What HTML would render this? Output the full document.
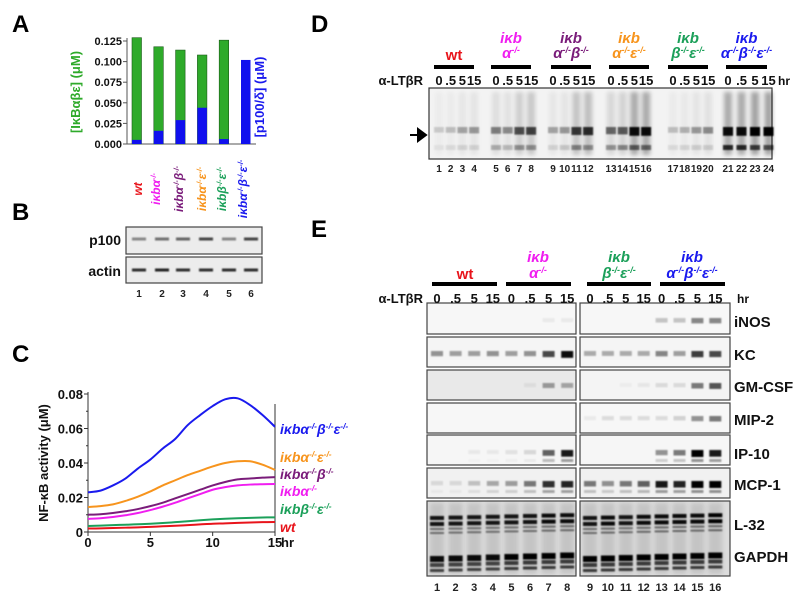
<!DOCTYPE html>
<html><head><meta charset="utf-8"><style>
html,body{margin:0;padding:0;background:#fff}
svg{display:block;font-family:"Liberation Sans",Arial,sans-serif;font-weight:bold}
</style></head><body>
<svg id="fig" width="800" height="602" viewBox="0 0 800 602" xmlns="http://www.w3.org/2000/svg">
<defs><filter id="bl" x="-20%" y="-50%" width="140%" height="200%"><feGaussianBlur stdDeviation="0.9"/></filter>
<filter id="bl2" x="-50%" y="-10%" width="200%" height="120%"><feGaussianBlur stdDeviation="2"/></filter></defs>
<g font-size="24" fill="#000">
<text x="12" y="32">A</text>
<text x="12" y="220">B</text>
<text x="12" y="362">C</text>
<text x="311" y="32">D</text>
<text x="311" y="237">E</text>
</g>
<g id="pa"></g>
<g id="pb"></g>
<g id="pc"></g>
<g id="pd"></g>
<g id="pe"></g>
</svg>
<script>
// ---------- Panel A data ----------
const aCategories = ['wt','iκbα','iκbαβ','iκbαε','iκbβε','iκbαβε'];
const aGreen = [0.129, 0.118, 0.114, 0.108, 0.126, 0];
const aBlue = [0.005, 0.016, 0.029, 0.044, 0.006, 0.102];
const aTicks = [0, 0.025, 0.05, 0.075, 0.1, 0.125];
const aTickLabels = ['0.000','0.025','0.050','0.075','0.100','0.125'];
// ---------- Panel C data ----------
const cTimes = [0,1,2,3,4,5,6,7,8,9,10,11,12,13,14,15];
const cBlue = [0.023,0.024,0.027,0.031,0.0368,0.042,0.0484,0.054,0.062,0.0678,0.073,0.0769,0.0775,0.0736,0.0678,0.061];
const cOrange = [0.0145,0.015,0.016,0.018,0.0205,0.0235,0.027,0.030,0.033,0.0355,0.038,0.040,0.041,0.041,0.039,0.036];
const cPurple = [0.010,0.0103,0.011,0.012,0.0133,0.015,0.017,0.0195,0.022,0.0245,0.027,0.029,0.0305,0.031,0.0315,0.0318];
const cMagenta = [0.0076,0.008,0.0087,0.0097,0.011,0.0127,0.0147,0.017,0.0195,0.022,0.0245,0.026,0.027,0.0275,0.0277,0.0278];
const cGreen = [0.0035,0.0037,0.004,0.0042,0.0045,0.0048,0.0052,0.0057,0.0062,0.0068,0.0073,0.0077,0.008,0.0082,0.0084,0.0085];
const cRed = [0.002,0.0021,0.0023,0.0025,0.0027,0.003,0.0033,0.0036,0.004,0.0044,0.0048,0.005,0.0053,0.0055,0.0057,0.0058];
const cYTicks = [0,0.02,0.04,0.06,0.08];
const cYTickLabels = ['0','0.02','0.04','0.06','0.08'];
const cXTicks = [0,5,10,15];
// ---------- Panel B data ----------
const bP100 = [0.45,0.55,0.6,0.75,0.45,0.75];
const bActin = [0.85,0.9,0.85,0.85,0.85,0.85];
// ---------- Panel D data ----------
const dUpper = [0.15,0.2,0.3,0.35, 0.45,0.4,0.65,0.7, 0.3,0.35,0.75,0.8, 0.55,0.6,0.95,0.95, 0.2,0.25,0.35,0.4, 0.95,0.95,1,1];
const dLower = [0.05,0.08,0.1,0.1, 0.25,0.2,0.35,0.35, 0.1,0.15,0.4,0.35, 0.35,0.4,0.55,0.5, 0.08,0.1,0.12,0.12, 0.8,0.8,0.7,0.6];
const dTimes = ['0','.5','5','15'];
// ---------- Panel E data ----------
const eINOS = [0,0,0,0,0,0,0.05,0.05, 0,0,0,0,0.2,0.2,0.45,0.45];
const eKC = [0.4,0.35,0.35,0.4,0.35,0.4,0.7,0.95, 0.3,0.3,0.3,0.3,0.45,0.35,0.75,0.7];
const eGMCSF = [0,0,0,0,0,0.05,0.35,0.3, 0,0,0.03,0.05,0.1,0.1,0.5,0.65];
const eMIP2 = [0,0,0,0,0,0,0,0, 0.05,0.1,0.1,0.1,0.1,0.15,0.4,0.5];
const eIP10 = [0,0,0.05,0.05,0.08,0.12,0.6,0.9, 0,0,0,0,0.4,0.5,1,0.9];
const eMCP1 = [0.1,0.1,0.2,0.3,0.35,0.5,0.8,0.85, 0.5,0.4,0.5,0.6,0.9,0.85,1,1];
const eL32 = [0.9,0.9,0.9,0.9,0.9,0.9,0.95,0.95, 0.9,0.95,0.9,0.95,0.95,0.95,0.95,1];
const eGAPDH = [0.95,0.95,0.95,0.95,1,1,1,1, 1,1,1,1,1,1,1,1];
const eTimes = ['0','.5','5','15'];

const NS='http://www.w3.org/2000/svg';
function mk(tag, attrs, parent, txt){const e=document.createElementNS(NS,tag);for(const k in attrs)e.setAttribute(k,attrs[k]);if(txt!==undefined)e.textContent=txt;parent.appendChild(e);return e;}
function geno(parent,x,y,parts,color,size,anchor,rot){
  const t=mk('text',{x:x,y:y,fill:color,'font-size':size,'font-style':'italic','text-anchor':anchor||'middle'},parent);
  if(rot)t.setAttribute('transform','rotate(-90 '+x+' '+y+')');
  parts.forEach(p=>{const s=mk('tspan',{},t,p[0]);if(p[1]){s.setAttribute('font-size',size*0.6);s.setAttribute('dy',-size*0.35);} else if(p[2]){s.setAttribute('dy',size*0.35);}});
  return t;
}
const COL={wt:'#e8141b',a:'#f01ef0',ab:'#7a1c7a',ae:'#f7941d',be:'#1ca05a',abe:'#1a1aee'};
const GP={wt:[['wt']],a:[['iκb'],['α'],['-/-',1]],ab:[['iκb'],['α'],['-/-',1],['β',0,1],['-/-',1]],ae:[['iκb'],['α'],['-/-',1],['ε',0,1],['-/-',1]],be:[['iκb'],['β'],['-/-',1],['ε',0,1],['-/-',1]],abe:[['iκb'],['α'],['-/-',1],['β',0,1],['-/-',1],['ε',0,1],['-/-',1]]};

// ---------- Panel A ----------
(function(){
  const g=document.getElementById('pa');
  const y0=144,y1=41,vmax=0.125;
  const ys=v=>y0-(v/vmax)*(y0-y1);
  const xs=i=>132+i*21.8;
  mk('line',{x1:127,y1:38,x2:127,y2:144,stroke:'#555','stroke-width':1},g);
  mk('line',{x1:127,y1:144,x2:256,y2:144,stroke:'#555','stroke-width':1},g);
  aTicks.forEach((t,i)=>{
    const tk=mk('line',{x1:123,y1:ys(t),x2:127,y2:ys(t),stroke:'#555'},g);
    
    const l=mk('text',{x:122,y:ys(t)+4,'font-size':11,'text-anchor':'end',fill:'#111'},g,aTickLabels[i]);
    
  });
  aCategories.forEach((c,i)=>{
    const x=xs(i);
    if(aGreen[i]>0){const r=mk('rect',{x:x,y:ys(aGreen[i]),width:9.5,height:y0-ys(aGreen[i]),fill:'#2eaa2a',stroke:'#1a5a18','stroke-width':0.6},g);
      }
    const b=mk('rect',{x:x,y:ys(aBlue[i]),width:9.5,height:y0-ys(aBlue[i]),fill:'#1010ee'},g);
    
  });
  const yl=mk('text',{x:80,y:92,'font-size':13,fill:'#2eaa2a','text-anchor':'middle',transform:'rotate(-90 80 92)'},g,'[IκBαβε]  (μM)');
  
  const yr=mk('text',{x:264,y:97,'font-size':13,fill:'#1a1aee','text-anchor':'middle',transform:'rotate(-90 264 97)'},g,'[p100/δ]  (μM)');
  
  const keys=['wt','a','ab','ae','be','abe'];const lx=[138,156,179,202,222,243];
  keys.forEach((k,i)=>{const t=geno(g,lx[i]+4,189,GP[k],COL[k],12,'middle',true);
    });
})();

// ---------- Panel B ----------
(function(){
  const g=document.getElementById('pb');
  const lanes=[139,162,183,206,229,251];
  [['p100',227,254,239,bP100],['actin',257,283,270,bActin]].forEach(r=>{
    const box=mk('rect',{x:126,y:r[1],width:136,height:r[2]-r[1],fill:'#ececec',stroke:'#444','stroke-width':1.2},g);
    
    mk('text',{x:121,y:r[3]+6,'font-size':14,'text-anchor':'end',fill:'#111'},g,r[0]);
    lanes.forEach((x,i)=>{const b=mk('rect',{x:x-7,y:r[3]-1.5,width:14,height:3,fill:'#111',opacity:r[4][i],filter:'url(#bl)'},g);
      });
  });
  lanes.forEach((x,i)=>mk('text',{x:x,y:297,'font-size':10,'text-anchor':'middle',fill:'#222'},g,String(i+1)));
})();

// ---------- Panel C ----------
(function(){
  const g=document.getElementById('pc');
  const X0=88,X1=275,Y0=532,Y1=394;
  const xs=t=>X0+t/15*(X1-X0);
  const ys=v=>Y0-v/0.08*(Y0-Y1);
  mk('path',{d:`M${X0},${Y1-2}V${Y0}H${X1}V${Y1+10}`,fill:'none',stroke:'#333','stroke-width':1},g);
  cYTicks.forEach((t,i)=>{mk('line',{x1:X0-4,x2:X0,y1:ys(t),y2:ys(t),stroke:'#333'},g);
    const l=mk('text',{x:X0-5,y:ys(t)+5,'font-size':13,'text-anchor':'end',fill:'#111'},g,cYTickLabels[i]);
    
    if(i<4)mk('line',{x1:X0-2,x2:X0,y1:ys(t+0.01),y2:ys(t+0.01),stroke:'#333'},g);});
  cXTicks.forEach(t=>{mk('line',{x1:xs(t),x2:xs(t),y1:Y0,y2:Y0+4,stroke:'#333'},g);
    const l=mk('text',{x:xs(t),y:Y0+15,'font-size':13,'text-anchor':'middle',fill:'#111'},g,String(t));
    });
  mk('text',{x:X1+6,y:Y0+15,'font-size':13,fill:'#111'},g,'hr');
  const yl=mk('text',{x:48,y:463,'font-size':13,'text-anchor':'middle',fill:'#111',transform:'rotate(-90 48 463)'},g,'NF-κB activity (μM)');
  
  const series=[['red',cRed,COL.wt],['green',cGreen,COL.be],['magenta',cMagenta,COL.a],['purple',cPurple,COL.ab],['orange',cOrange,COL.ae],['blue',cBlue,COL.abe]];
  series.forEach(s=>{
    const pts=cTimes.map((t,i)=>[xs(t),ys(s[1][i])]);
    let d='M'+pts[0][0]+','+pts[0][1];
    for(let i=0;i<pts.length-1;i++){const p0=pts[Math.max(0,i-1)],p1=pts[i],p2=pts[i+1],p3=pts[Math.min(pts.length-1,i+2)];
      d+=` C${p1[0]+(p2[0]-p0[0])/6},${p1[1]+(p2[1]-p0[1])/6} ${p2[0]-(p3[0]-p1[0])/6},${p2[1]-(p3[1]-p1[1])/6} ${p2[0]},${p2[1]}`;}
    const p=mk('path',{d:d,fill:'none',stroke:s[2],'stroke-width':2},g);
    
  });
  [['abe',434],['ae',462],['ab',479],['a',496],['be',514],['wt',532]].forEach(l=>{
    const t=geno(g,280,l[1],GP[l[0]],COL[l[0]],14,'start',false);
    });
})();

// ---------- Panel D ----------
(function(){
  const g=document.getElementById('pd');
  const groups=[[439,'wt'],[496,'a'],[553,'ab'],[611,'ae'],[673,'be'],[728,'abe']];
  const bars=[[434,474],[491,531],[551,591],[609,649],[668,708],[726,767]];
  const sp=11.7;
  mk('rect',{x:429,y:88,width:343,height:71,fill:'#f3f3f3',stroke:'#333','stroke-width':1.2},g);
  const lanesX=[];groups.forEach(gr=>{for(let j=0;j<4;j++)lanesX.push(gr[0]+j*(gr[1]==='abe'?13.5:sp));});
  lanesX.forEach((x,i)=>{
    const sm=mk('rect',{x:x-4,y:92,width:8,height:63,fill:'#000',opacity:0.02+dUpper[i]*dUpper[i]*0.3,filter:'url(#bl2)'},g);
    
    const u=mk('rect',{x:x-5,y:127,width:10,height:5+dUpper[i]*4,fill:'#000',opacity:dUpper[i],filter:'url(#bl)'},g);
    
    const l=mk('rect',{x:x-5,y:145,width:10,height:5,fill:'#000',opacity:dLower[i],filter:'url(#bl)'},g);
    
    mk('text',{x:x,y:172,'font-size':10,'text-anchor':'middle',fill:'#222'},g,String(i+1));
    mk('text',{x:x,y:85,'font-size':13,'text-anchor':'middle',fill:'#111'},g,dTimes[i%4]);
  });
  bars.forEach(b=>mk('rect',{x:b[0],y:65,width:b[1]-b[0],height:4,fill:'#000'},g));
  const head={wt:null,a:[['α'],['-/-',1]],ab:[['α'],['-/-',1],['β',0,1],['-/-',1]],ae:[['α'],['-/-',1],['ε',0,1],['-/-',1]],be:[['β'],['-/-',1],['ε',0,1],['-/-',1]],abe:[['α'],['-/-',1],['β',0,1],['-/-',1],['ε',0,1],['-/-',1]]};
  groups.forEach((gr,i)=>{const cx=(bars[i][0]+bars[i][1])/2,k=gr[1];
    if(k==='wt'){mk('text',{x:cx,y:60,'font-size':15,'text-anchor':'middle',fill:COL.wt},g,'wt');}
    else{mk('text',{x:cx,y:43,'font-size':15,'text-anchor':'middle',fill:COL[k],'font-style':'italic'},g,'iκb');
      geno(g,cx,58,head[k],COL[k],15,'middle',false);}
  });
  mk('text',{x:423,y:85,'font-size':13,'text-anchor':'end',fill:'#111'},g,'α-LTβR');
  mk('text',{x:778,y:85,'font-size':12,fill:'#111'},g,'hr');
  mk('path',{d:'M410,135H418M418,129L426,135L418,141Z',stroke:'#000','stroke-width':2,fill:'#000'},g);
})();

// ---------- Panel E ----------
(function(){
  const g=document.getElementById('pe');
  const lx=[];for(let i=0;i<8;i++)lx.push(437+i*18.6);for(let i=0;i<8;i++)lx.push(590+i*17.9);
  const rows=[['iNOS',303,334,320,eINOS,'#f7f7f7'],['KC',337,367,353,eKC,'#f5f5f5'],['GM-CSF',370,400,385,eGMCSF,'#f4f4f4'],['MIP-2',403,433,418,eMIP2,'#f7f7f7'],['IP-10',435,465,452,eIP10,'#f6f6f6'],['MCP-1',468,498,483,eMCP1,'#f1f1f1']];
  rows.forEach(r=>{
    [[427,149],[580,150]].forEach((bx,si)=>{const box=mk('rect',{x:bx[0],y:r[1],width:bx[1],height:r[2]-r[1],fill:(r[0]==='GM-CSF'&&si===0)?'#e9e9e9':r[5],stroke:'#444','stroke-width':1.2},g);
      });
    lx.forEach((x,i)=>{const v=r[4][i];if(v<=0)return;
      const b=mk('rect',{x:x-6,y:r[3]-2,width:12,height:4+v*3,fill:'#000',opacity:v,filter:'url(#bl)'},g);
      
      if(r[0]==='IP-10'||r[0]==='MCP-1'){mk('rect',{x:x-6,y:r[3]+7,width:12,height:3,fill:'#000',opacity:v*0.4,filter:'url(#bl)'},g);}
    });
    mk('text',{x:734,y:r[3]+7,'font-size':15,fill:'#111'},g,r[0]);
  });
  [[427,149],[580,150]].forEach(bx=>{const box=mk('rect',{x:bx[0],y:501,width:bx[1],height:75,fill:'#dcdcdc',stroke:'#444','stroke-width':1.2},g);
    });
  lx.forEach((x,i)=>{
    mk('rect',{x:x-7,y:503,width:14,height:71,fill:'#000',opacity:0.1,filter:'url(#bl2)'},g);
    [[516,4],[522,4],[528,2],[532,2]].forEach((b,j)=>{const e=mk('rect',{x:x-7,y:b[0]-(i%8)*0.4,width:14,height:b[1],fill:'#000',opacity:eL32[i]*(j<2?1:0.5),filter:'url(#bl)'},g);
      });
    [[556,6],[563,4],[569,3]].forEach((b,j)=>{const e=mk('rect',{x:x-7,y:b[0]-(i%8)*0.5,width:14,height:b[1],fill:'#000',opacity:eGAPDH[i]*(j===0?1:0.7),filter:'url(#bl)'},g);
      });
    mk('text',{x:x,y:591,'font-size':11,'text-anchor':'middle',fill:'#222'},g,String(i+1));
    mk('text',{x:x,y:303,'font-size':13,'text-anchor':'middle',fill:'#111'},g,eTimes[i%4]);
  });
  mk('text',{x:734,y:530,'font-size':15,fill:'#111'},g,'L-32');
  mk('text',{x:734,y:562,'font-size':15,fill:'#111'},g,'GAPDH');
  const bars=[[432,497],[506,571],[587,651],[660,725]];
  bars.forEach(b=>mk('rect',{x:b[0],y:282,width:b[1]-b[0],height:4,fill:'#000'},g));
  mk('text',{x:465,y:279,'font-size':15,'text-anchor':'middle',fill:COL.wt},g,'wt');
  const heads=[[538,'a',[['α'],['-/-',1]]],[619,'be',[['β'],['-/-',1],['ε',0,1],['-/-',1]]],[692,'abe',[['α'],['-/-',1],['β',0,1],['-/-',1],['ε',0,1],['-/-',1]]]];
  heads.forEach(h=>{mk('text',{x:h[0],y:262,'font-size':15,'text-anchor':'middle',fill:COL[h[1]],'font-style':'italic'},g,'iκb');
    geno(g,h[0],278,h[2],COL[h[1]],15,'middle',false);});
  mk('text',{x:423,y:303,'font-size':13,'text-anchor':'end',fill:'#111'},g,'α-LTβR');
  mk('text',{x:737,y:303,'font-size':12,fill:'#111'},g,'hr');
})();
</script>
</body></html>
